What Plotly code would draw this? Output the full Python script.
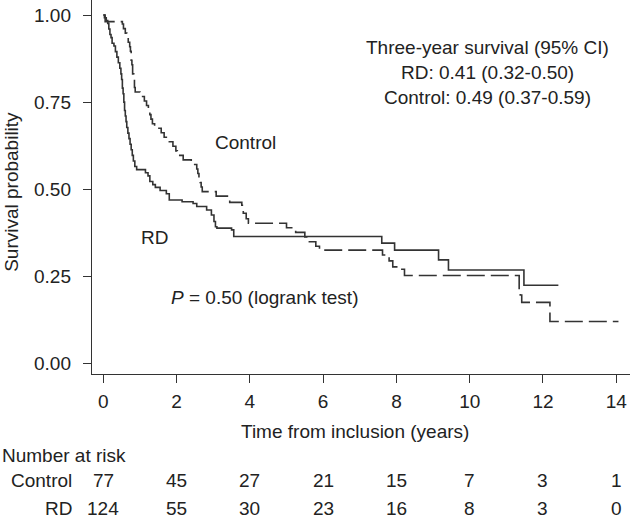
import plotly.graph_objects as go

# ---------------- data ----------------
rd_time = [0.00, 0.03, 0.08, 0.12, 0.15, 0.18, 0.21, 0.24, 0.29, 0.33, 0.37, 0.41, 0.45,
           0.48, 0.50, 0.52, 0.54, 0.56, 0.58, 0.60, 0.62, 0.64, 0.67, 0.70, 0.73, 0.76,
           0.79, 0.82, 0.86, 0.91, 1.15, 1.22, 1.27, 1.35, 1.42, 1.55, 1.72, 1.80, 2.15,
           2.45, 2.55, 2.82, 2.95, 3.02, 3.06, 3.10, 3.50, 3.56, 7.60, 7.95, 9.15, 9.42,
           11.48, 12.42]
rd_surv = [1.000, 0.992, 0.984, 0.976, 0.960, 0.944, 0.935, 0.919, 0.911, 0.895, 0.879, 0.863, 0.847,
           0.831, 0.815, 0.790, 0.774, 0.750, 0.726, 0.710, 0.694, 0.677, 0.661, 0.645, 0.629, 0.613,
           0.597, 0.581, 0.565, 0.556, 0.547, 0.538, 0.522, 0.513, 0.505, 0.496, 0.487, 0.469, 0.464,
           0.459, 0.450, 0.440, 0.426, 0.407, 0.392, 0.388, 0.383, 0.364, 0.345, 0.325, 0.297, 0.268,
           0.224, 0.224]

ctrl_time = [0.00, 0.05, 0.52, 0.55, 0.60, 0.64, 0.68, 0.72, 0.74, 0.76, 0.78, 0.80, 0.83,
             0.85, 0.87, 1.00, 1.12, 1.18, 1.23, 1.27, 1.30, 1.34, 1.40, 1.58, 1.66, 1.72,
             1.90, 1.98, 2.02, 2.18, 2.40, 2.55, 2.58, 2.61, 2.64, 2.67, 2.70, 3.08, 3.45,
             3.78, 3.82, 3.90, 3.96, 5.00, 5.25, 5.50, 5.55, 5.80, 5.90, 7.62, 7.80, 7.90,
             8.10, 8.22, 11.35, 11.38, 11.42, 12.19, 14.06]
ctrl_surv = [1.000, 0.981, 0.974, 0.961, 0.948, 0.935, 0.922, 0.909, 0.896, 0.870, 0.857, 0.831, 0.818,
             0.792, 0.779, 0.766, 0.753, 0.740, 0.727, 0.714, 0.701, 0.688, 0.675, 0.662, 0.649, 0.636,
             0.623, 0.610, 0.597, 0.584, 0.571, 0.558, 0.545, 0.532, 0.519, 0.506, 0.493, 0.480, 0.462,
             0.454, 0.431, 0.415, 0.402, 0.389, 0.376, 0.363, 0.349, 0.336, 0.325, 0.311, 0.294, 0.277,
             0.270, 0.252, 0.210, 0.196, 0.175, 0.120, 0.120]

x_ticks = [0, 2, 4, 6, 8, 10, 12, 14]
y_ticks = [0.0, 0.25, 0.50, 0.75, 1.00]
y_tick_labels = ["0.00", "0.25", "0.50", "0.75", "1.00"]

risk_groups = ["Control", "RD"]
risk_control = [77, 45, 27, 21, 15, 7, 3, 1]
risk_rd = [124, 55, 30, 23, 16, 8, 3, 0]

# ---------------- figure ----------------
FONT = "Liberation Sans, Arial, Helvetica, sans-serif"
TXT = "#222222"
LINE = "#333333"
FS = 19

fig = go.Figure()
fig.add_trace(go.Scatter(x=rd_time, y=rd_surv, mode="lines", line_shape="hv",
                         line=dict(color=LINE, width=1.6), showlegend=False, hoverinfo="skip"))
fig.add_trace(go.Scatter(x=ctrl_time, y=ctrl_surv, mode="lines", line_shape="hv",
                         line=dict(color=LINE, width=1.6, dash="18px,6px"),
                         showlegend=False, hoverinfo="skip"))

ann = []
def add(text, **kw):
    d = dict(text=text, showarrow=False, font=dict(family=FONT, size=FS, color=TXT))
    d.update(kw)
    ann.append(d)

# in-plot labels
add("Control", x=3.87, y=0.633, xref="x", yref="y")
add("RD", x=1.41, y=0.36, xref="x", yref="y")
add("<i>P</i> = 0.50 (logrank test)", x=4.41, y=0.19, xref="x", yref="y")
add("Three-year survival (95% CI)", x=10.48, y=0.908, xref="x", yref="y")
add("RD: 0.41 (0.32-0.50)", x=10.48, y=0.836, xref="x", yref="y")
add("Control: 0.49 (0.37-0.59)", x=10.48, y=0.764, xref="x", yref="y")

# axis titles
add("Time from inclusion (years)", x=0.489, y=0, xref="paper", yref="paper",
    yanchor="middle", yshift=-57)
add("Survival probability", x=0, y=0.487, xref="paper", yref="paper",
    xanchor="center", xshift=-80, textangle=-90)

# number at risk table
add("Number at risk", x=0, y=0, xref="paper", yref="paper", xanchor="left",
    xshift=-92, yanchor="middle", yshift=-81)
row_shift = [-106, -134]
for g, vals, ys in zip(risk_groups, [risk_control, risk_rd], row_shift):
    add(g, x=0, y=0, xref="paper", yref="paper", xanchor="right", xshift=-18,
        yanchor="middle", yshift=ys)
    for t, v in zip(x_ticks, vals):
        add(str(v), x=t, y=0, xref="x", yref="paper", xanchor="center",
            yanchor="middle", yshift=ys)

fig.update_layout(
    width=630, height=519,
    margin=dict(l=92, r=0, t=0, b=145, autoexpand=False),
    paper_bgcolor="white", plot_bgcolor="white",
    font=dict(family=FONT, size=FS, color=TXT),
    annotations=ann,
    xaxis=dict(range=[-0.309, 14.375], tickvals=x_ticks, ticks="outside", ticklen=8,
               tickcolor=LINE, showline=True, linecolor=LINE, linewidth=1.2,
               showgrid=False, zeroline=False, tickfont=dict(size=FS, color=TXT),
               ticklabelstandoff=2, automargin=False),
    yaxis=dict(range=[-0.0307, 1.0431], tickvals=y_ticks, ticktext=y_tick_labels,
               ticks="outside", ticklen=8, tickcolor=LINE, showline=True, linecolor=LINE,
               linewidth=1.2, showgrid=False, zeroline=False,
               tickfont=dict(size=FS, color=TXT), ticklabelstandoff=8, automargin=False),
)

fig.write_html("out.html", config={"displayModeBar": False, "staticPlot": True},
               post_script="document.body.style.margin='0';document.body.style.overflow='hidden';")
